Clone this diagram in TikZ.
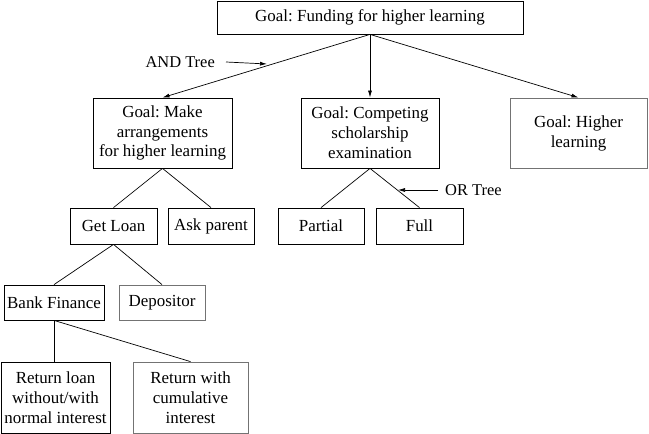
\documentclass[tikz,border=0pt]{standalone}
\usepackage{fontspec}
\setmainfont{Liberation Serif}
\usetikzlibrary{arrows.meta}
\frenchspacing
\begin{document}
\frenchspacing
\begin{tikzpicture}[x=1bp,y=-1bp,
  box/.style={draw=black,line width=0.8bp,rectangle,inner sep=2bp,align=center,
    font=\fontsize{17}{20}\selectfont},
  graybox/.style={box,draw=black!55},
  lbl/.style={font=\fontsize{16.5}{19}\selectfont,inner sep=1bp},
  link/.style={line width=0.7bp},
  arr/.style={link,-{Latex[length=7bp,width=4bp]}}]
\useasboundingbox (0,0) rectangle (649,434);
\node[box,minimum width=306bp,minimum height=33bp] (root) at (370,17.5) {Goal: Funding for higher learning};
\node[box,minimum width=139bp,minimum height=70bp] (make) at (162.5,133) {Goal: Make\\arrangements\\for higher learning};
\node[box,minimum width=138bp,minimum height=70bp] (comp) at (370,133) {Goal: Competing\\scholarship\\examination};
\node[graybox,minimum width=137bp,minimum height=70bp] (high) at (578.5,133) {Goal: Higher\\learning};
\node[box,minimum width=87bp,minimum height=36bp] (loan) at (113.5,226) {Get Loan};
\node[box,minimum width=86bp,minimum height=36bp] (ask) at (211,226) {Ask parent};
\node[box,minimum width=86bp,minimum height=36bp] (part) at (321,226) {Partial};
\node[box,minimum width=87bp,minimum height=36bp] (full) at (419.5,226) {Full};
\node[box,minimum width=100bp,minimum height=35bp] (bank) at (54,302.5) {Bank Finance};
\node[graybox,minimum width=86bp,minimum height=35bp] (dep) at (162,302.5) {Depositor};
\node[box,minimum width=109bp,minimum height=71bp] (rl) at (55.5,397.5) {Return loan\\without/with\\normal interest};
\node[graybox,minimum width=115bp,minimum height=71bp] (rw) at (190.5,397.5) {Return with\\cumulative\\interest};
\draw[arr] (root.south) -- (make.north);
\draw[arr] (root.south) -- (comp.north);
\draw[arr] (root.south) -- (high.north);
\draw[link] (make.south) -- (loan.north);
\draw[link] (make.south) -- (ask.north);
\draw[link] (comp.south) -- (part.north);
\draw[link] (comp.south) -- (full.north);
\draw[link] (loan.south) -- (bank.north);
\draw[link] (loan.south) -- (dep.north);
\draw[link] (bank.south) -- (bank.south |- rl.north);
\draw[link] (bank.south) -- (rw.north);
\node[lbl,anchor=east] (andl) at (216,62) {AND Tree};
\coordinate (andt) at (267,64);
\draw[arr] ([xshift=10bp]andl.east) -- (andt);
\node[lbl,anchor=west] (orl) at (444,190) {OR Tree};
\coordinate (ort) at (398,190);
\draw[arr] ([xshift=-6bp]orl.west) -- (ort);
\end{tikzpicture}
\end{document}
